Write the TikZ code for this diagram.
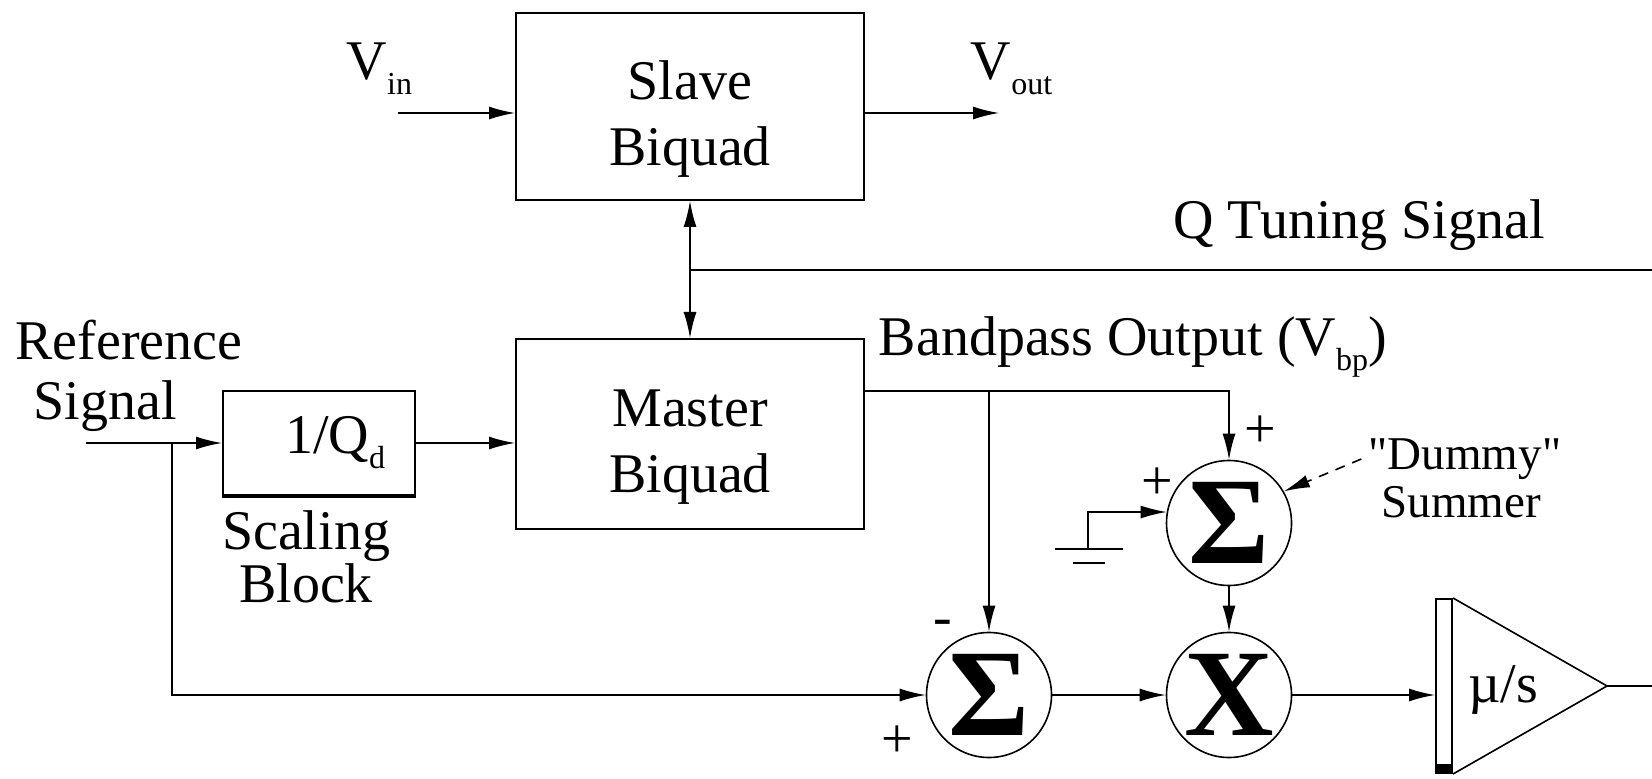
\documentclass[tikz,border=0pt]{standalone}
\usepackage{fontspec}
\setmainfont{Liberation Serif}
\newfontfamily\quotefont{Liberation Serif}[Ligatures = ResetAll]
\usetikzlibrary{arrows.meta}

\newcommand{\lowsub}[1]{\raisebox{-7.5pt}{\fontsize{16}{16}\selectfont #1}}

\begin{document}
\begin{tikzpicture}[x = 0.5pt, y = -0.5pt, line width = 0.8pt,
	> = {Latex[length = 13pt, width = 6.5pt]},
	every node/.style = {font = \fontsize{28}{33}\selectfont},
	block/.style = {draw, line width = 1pt, minimum width = 174pt, align = center},
	blocktext/.style = {label = {[yshift = -6.5pt, align = center]center:#1}},
	summer/.style = {draw, circle, minimum size = 62.5pt, inner sep = 0pt, font = \fontsize{62}{62}\selectfont}]

	\useasboundingbox (0, 0) rectangle (1652, 779);

	% Slave and master biquads with the tuning signal
	
	\node (slave) at (690, 106.5) [block, minimum height = 93.5pt, blocktext = {Slave\\Biquad}] {};
	\node (master) at (690, 434) [block, minimum height = 95pt, blocktext = {Master\\Biquad}] {};
	
	\coordinate (vin) at (398, 113);
	\coordinate (vout) at (999, 113);
	\draw [->] (vin) -- (vin -| slave.west);
	\draw [->] (vout -| slave.east) -- (vout);
	\node (vinlabel) at (346, 80) [anchor = base west, inner sep = 0pt] {V\lowsub{in}};
	\node (voutlabel) at (970, 80) [anchor = base west, inner sep = 0pt] {V\lowsub{out}};
	
	\draw [<->] (slave.south) -- (master.north);
	
	\coordinate (qtap) at (690, 270);
	\coordinate (qend) at (1652, 270);
	\draw (qtap) -- (qend);
	\node (qlabel) at (1359, 225) {Q Tuning Signal};
	
	% Reference signal and scaling block
	
	\node (reflabel) at (129, 340) {Reference};
	\node (siglabel) at (105, 406) {Signal};
	
	\node (scaling) at (319, 443) [block, minimum width = 96pt, minimum height = 52pt] {\hspace{16pt}1/Q\lowsub{d}};
	\draw [line width = 2pt] (scaling.south west) -- (scaling.south east);
	\node (scalelabel) at (306, 557) [align = center, font = \fontsize{28}{23.5}\selectfont] {Scaling\\Block};
	
	\coordinate (refin) at (86, 443);
	\coordinate (refbranch) at (172, 443);
	\draw [->] (refin) -- (scaling.west);
	\draw [->] (scaling.east) -- (scaling.east -| master.west);
	
	% Summers and multiplier
	
	\node (dummy) at (1229, 523) [summer] {\textbf{Σ}};
	\node (sigma) at (989, 695) [summer] {\textbf{Σ}};
	\node (mult) at (1229, 695) [summer] {\textbf{X}};
	
	\coordinate (bptap) at (989, 391);
	\draw [->] (master.east |- bptap) -| (dummy.north);
	\draw [->] (bptap) -- (sigma.north);
	\node (bplabel) at (878, 356) [anchor = base west, inner sep = 0pt] {Bandpass Output (V\lowsub{bp})};
	
	\draw [->] (refbranch) |- (sigma.west);
	\draw [->] (sigma.east) -- (mult.west);
	\draw [->] (dummy.south) -- (mult.north);
	
	\node (plusa) at (1260, 432) {+};
	\node (plusb) at (1157, 484) {+};
	\node (minus) at (943, 628) {-};
	\node (plusc) at (897, 742) {+};
	
	% Grounded input of the dummy summer
	
	\coordinate (gnd) at (1088, 549);
	\draw [->] (gnd) |- (dummy.170);
	\draw (1055, 549) -- (1123, 549);
	\draw (1073, 563) -- (1105, 563);
	
	\node (dummylabel) at (1465, 459) [font = \quotefont\fontsize{23.5}{23.5}\selectfont] {"Dummy"};
	\node (summerlabel) at (1461, 502) [font = \fontsize{23.5}{23.5}\selectfont] {Summer};
	\draw [->, dash pattern = on 5pt off 4pt] (dummylabel.west) -- (dummy.30);
	
	% Integrator
	
	\node (bar) at (1444, 686) [draw, line width = 1pt, minimum width = 8pt, minimum height = 87pt, inner sep = 0pt] {};
	\fill (bar.south west) rectangle ++(16, -10);
	\coordinate (apex) at (1607, 686);
	\coordinate (intout) at (1652, 686);
	\draw (bar.north east) -- (apex) -- (bar.south east);
	\draw (apex) -- (intout);
	\node (gain) at (1503, 690) {µ/s};
	
	\draw [->] (mult.east) -- (mult.east -| bar.west);

\end{tikzpicture}
\end{document}
